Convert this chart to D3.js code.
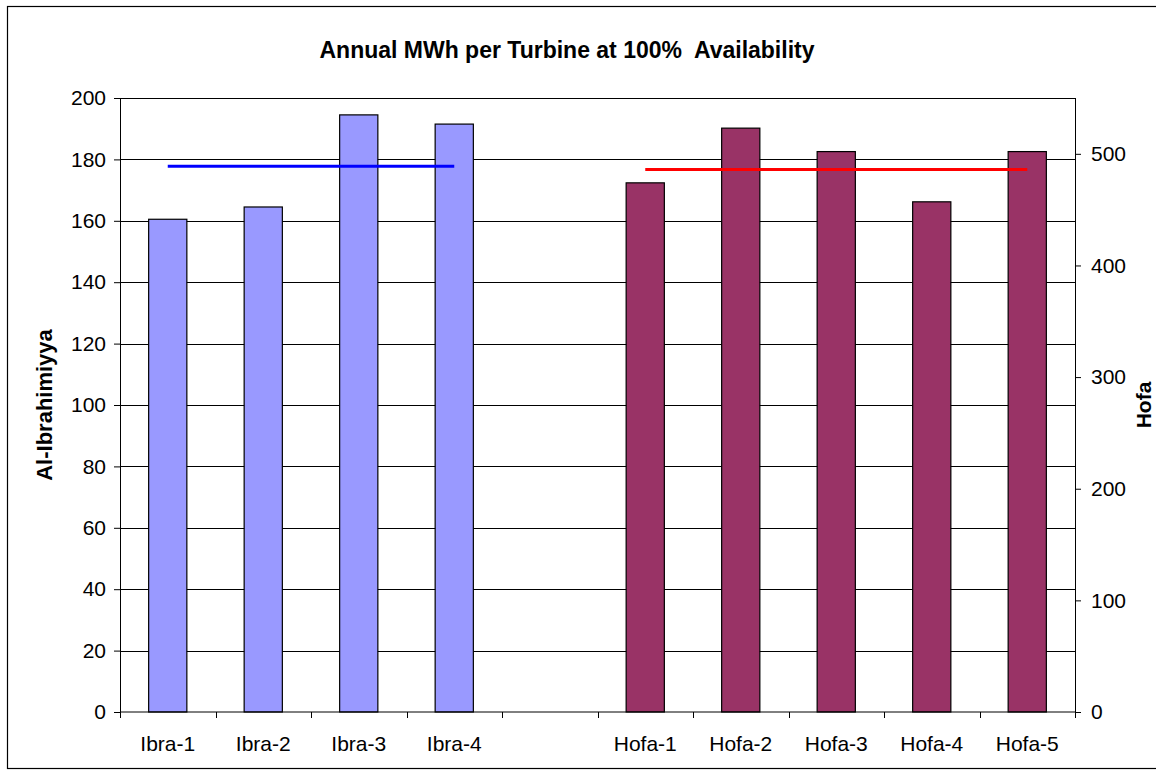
<!DOCTYPE html>
<html lang="en">
<head>
  <meta charset="UTF-8">
  <title>Annual MWh per Turbine at 100% Availability</title>
  <script src="https://d3js.org/d3.v7.min.js"></script>
  <style>
    body { margin: 0; background: #fff; }
    text { font-family: Arial, "Liberation Sans", sans-serif; fill: #000; }
  </style>
</head>
<body>
  <div id="chart"></div>

  <script>
    // categories (one empty slot between the two sites)
    const categories = ["Ibra-1", "Ibra-2", "Ibra-3", "Ibra-4", "", "Hofa-1", "Hofa-2", "Hofa-3", "Hofa-4", "Hofa-5"];

    // Al-Ibrahimiyya turbines, left axis
    const ibraNames = ["Ibra-1", "Ibra-2", "Ibra-3", "Ibra-4"];
    const ibraValues = [160.5, 164.5, 194.5, 191.5];
    const ibraAverage = 177.8;

    // Hofa turbines, right axis
    const hofaNames = ["Hofa-1", "Hofa-2", "Hofa-3", "Hofa-4", "Hofa-5"];
    const hofaValues = [474, 523, 502, 457, 502];
    const hofaAverage = 486;

    const leftTicks = [0, 20, 40, 60, 80, 100, 120, 140, 160, 180, 200];
    const rightTicks = [0, 100, 200, 300, 400, 500];

    const W = 1156, H = 776;
    const margin = { top: 98, right: 81, bottom: 64, left: 120 };
    const width = W - margin.left - margin.right;
    const height = H - margin.top - margin.bottom;

    const svg = d3.select("#chart").append("svg")
      .attr("width", W)
      .attr("height", H);

    // outer chart border
    svg.append("rect")
      .attr("x", 7.5).attr("y", 6.5)
      .attr("width", 1160).attr("height", 762)
      .attr("fill", "none").attr("stroke", "#000").attr("stroke-width", 1.2);

    svg.append("text")
      .attr("x", 567).attr("y", 58)
      .attr("text-anchor", "middle")
      .style("font-size", "23px").style("font-weight", "bold")
      .style("white-space", "pre")
      .text("Annual MWh per Turbine at 100%  Availability");

    const g = svg.append("g")
      .attr("transform", "translate(" + margin.left + "," + margin.top + ")");

    const x = d3.scaleBand()
      .domain(categories)
      .range([0, width])
      .paddingInner(0.6)
      .paddingOuter(0.3);

    const yLeft = d3.scaleLinear().domain([0, 200]).range([height, 0]);
    const yRight = d3.scaleLinear().domain([0, 550]).range([height, 0]);

    // gridlines
    g.append("g").selectAll("line")
      .data(leftTicks.slice(1))
      .enter().append("line")
        .attr("x1", 0).attr("x2", width)
        .attr("y1", d => Math.round(yLeft(d)) + 0.5)
        .attr("y2", d => Math.round(yLeft(d)) + 0.5)
        .attr("stroke", "#000").attr("stroke-width", 1);

    // bars
    g.append("g").selectAll("rect")
      .data(ibraNames.map((n, i) => ({ n, v: ibraValues[i] })))
      .enter().append("rect")
        .attr("x", d => x(d.n))
        .attr("y", d => yLeft(d.v))
        .attr("width", x.bandwidth())
        .attr("height", d => height - yLeft(d.v))
        .attr("fill", "#9999FF")
        .attr("stroke", "#000").attr("stroke-width", 1.2);

    g.append("g").selectAll("rect")
      .data(hofaNames.map((n, i) => ({ n, v: hofaValues[i] })))
      .enter().append("rect")
        .attr("x", d => x(d.n))
        .attr("y", d => yRight(d.v))
        .attr("width", x.bandwidth())
        .attr("height", d => height - yRight(d.v))
        .attr("fill", "#993366")
        .attr("stroke", "#000").attr("stroke-width", 1.2);

    // average lines
    const mid = n => x(n) + x.bandwidth() / 2;
    g.append("line")
      .attr("x1", mid(ibraNames[0])).attr("x2", mid(ibraNames[ibraNames.length - 1]))
      .attr("y1", yLeft(ibraAverage)).attr("y2", yLeft(ibraAverage))
      .attr("stroke", "#0000FF").attr("stroke-width", 3);
    g.append("line")
      .attr("x1", mid(hofaNames[0])).attr("x2", mid(hofaNames[hofaNames.length - 1]))
      .attr("y1", yRight(hofaAverage)).attr("y2", yRight(hofaAverage))
      .attr("stroke", "#FF0000").attr("stroke-width", 3);

    // axes
    const leftAxis = g.append("g")
      .call(d3.axisLeft(yLeft).tickValues(leftTicks).tickSize(6).tickPadding(8));
    const rightAxis = g.append("g")
      .attr("transform", "translate(" + width + ",0)")
      .call(d3.axisRight(yRight).tickValues(rightTicks).tickSize(6).tickPadding(10));

    // category axis: ticks at slot boundaries, labels centred below
    const step = x.step();
    const bottomAxis = g.append("g")
      .attr("transform", "translate(0," + height + ")");
    bottomAxis.append("line")
      .attr("x1", 0).attr("x2", width)
      .attr("stroke", "#000");
    bottomAxis.selectAll(".tk")
      .data(d3.range(categories.length + 1))
      .enter().append("line")
        .attr("x1", i => Math.round(i * step) + 0.5)
        .attr("x2", i => Math.round(i * step) + 0.5)
        .attr("y1", 0).attr("y2", 6)
        .attr("stroke", "#000");
    bottomAxis.selectAll("text")
      .data(categories)
      .enter().append("text")
        .attr("x", d => x(d) + x.bandwidth() / 2)
        .attr("y", 39)
        .attr("text-anchor", "middle")
        .style("font-size", "21px")
        .text(d => d);

    [leftAxis, rightAxis].forEach(a => {
      a.select("path.domain").remove();
      a.selectAll("text").style("font-size", "21px").attr("font-family", null);
      a.selectAll("line").attr("stroke", "#000");
    });
    g.append("line").attr("x1", 0.5).attr("x2", 0.5).attr("y1", 0).attr("y2", height + 6).attr("stroke", "#000");
    g.append("line").attr("x1", width + 0.5).attr("x2", width + 0.5).attr("y1", 0).attr("y2", height + 6).attr("stroke", "#000");

    // axis titles
    svg.append("text")
      .attr("transform", "translate(52," + (margin.top + height / 2) + ") rotate(-90)")
      .attr("text-anchor", "middle")
      .style("font-size", "22px").style("font-weight", "bold")
      .text("Al-Ibrahimiyya");
    svg.append("text")
      .attr("transform", "translate(1151," + (margin.top + height / 2) + ") rotate(-90)")
      .attr("text-anchor", "middle")
      .style("font-size", "21px").style("font-weight", "bold")
      .text("Hofa");
  </script>
</body>
</html>
